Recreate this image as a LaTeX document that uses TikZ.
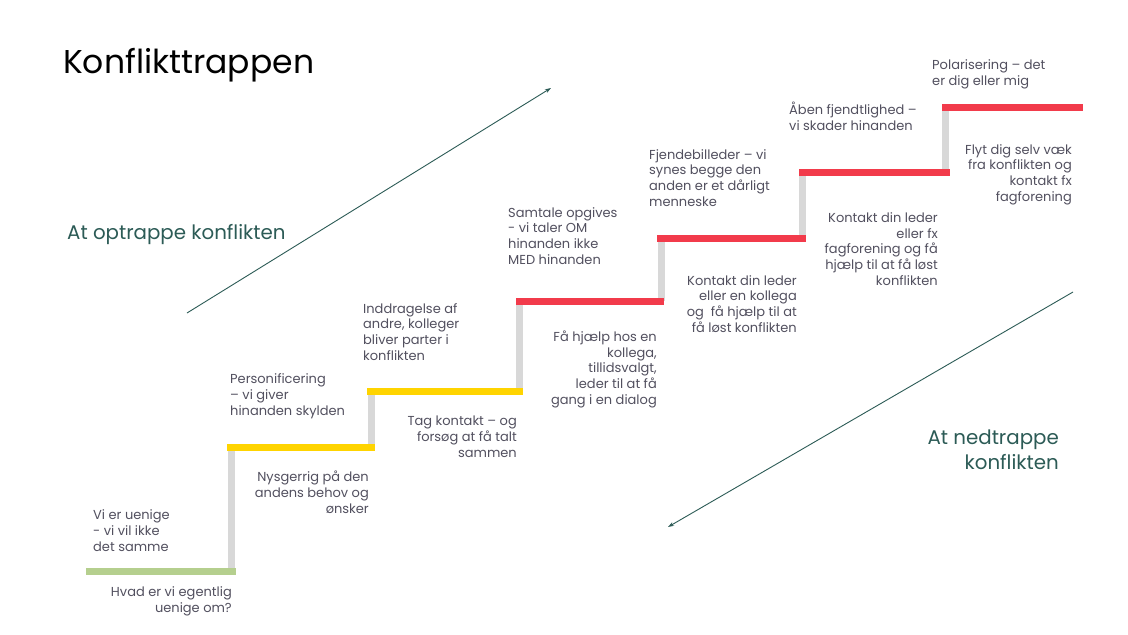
\documentclass[tikz,border=0pt]{standalone}
\usepackage{fontspec}
\setmainfont{Poppins}
\usetikzlibrary{arrows.meta}
\definecolor{stepgreen}{HTML}{B5CF8E}
\definecolor{stepyellow}{HTML}{FFD400}
\definecolor{stepred}{HTML}{F23B4B}
\definecolor{riser}{HTML}{D8D8D8}
\definecolor{bodytext}{HTML}{52505F}
\definecolor{teal}{HTML}{2C5B56}
\tikzset{
  tread/.style={line width=7pt, line cap=butt},
  riserline/.style={riser, line width=7pt, line cap=butt},
  lbl/.style={inner sep=0pt, text=bodytext, font=\fontsize{13}{15.6}\selectfont},
  lblL/.style={lbl, align=left, anchor=base west},
  lblR/.style={lbl, align=right, anchor=base east},
  trend/.style={teal, line width=0.9pt, -{Stealth[length=6pt,width=4pt]}},
  side/.style={inner sep=0pt, text=teal, font=\fontsize{19.8}{24.5}\selectfont},
}
\begin{document}
\begin{tikzpicture}[x=1pt,y=-1pt]
\useasboundingbox (0,0) rectangle (1128,635);
\fill[white] (0,0) rectangle (1128,635);

% risers
\draw[riserline] (231,571) -- (231,447);
\draw[riserline] (371.5,447) -- (371.5,391);
\draw[riserline] (519.5,391) -- (519.5,301);
\draw[riserline] (661,301) -- (661,238);
\draw[riserline] (802.5,238) -- (802.5,172);
\draw[riserline] (945.5,172) -- (945.5,107);

% treads
\draw[tread, stepgreen] (86,571) -- (236,571);
\draw[tread, stepyellow] (227,447) -- (375,447);
\draw[tread, stepyellow] (367,391) -- (523,391);
\draw[tread, stepred] (516,301) -- (664,301);
\draw[tread, stepred] (657,238) -- (806,238);
\draw[tread, stepred] (799,172) -- (950,172);
\draw[tread, stepred] (942,107) -- (1083,107);

% title
\node[inner sep=0pt, anchor=base west, font=\fontsize{33}{36}\selectfont, text=black] (title) at (63,73) {Konflikttrappen};

% trend arrows
\coordinate (upA) at (187,313);
\coordinate (upB) at (551,88);
\coordinate (dnA) at (1073,292);
\coordinate (dnB) at (668,527);
\draw[trend] (upA) -- (upB);
\draw[trend] (dnA) -- (dnB);

\node[side, anchor=base west] (opt) at (67,239) {At optrappe konflikten};
\node[side, align=right, anchor=base east] (ned) at (1059,469) {At nedtrappe\\konflikten};

% step labels (anchor = baseline of the last line)
\node[lblL] (s1) at (93,551) {Vi er uenige\\- vi vil ikke\\det samme};
\node[lblR] (d1) at (232,612) {Hvad er vi egentlig\\uenige om?};
\node[lblL] (s2) at (230,415) {Personificering\\– vi giver\\hinanden skylden};
\node[lblR] (d2) at (369,513) {Nysgerrig på den\\andens behov og\\ønsker};
\node[lblL] (s3) at (363,360) {Inddragelse af\\andre, kolleger\\bliver parter i\\konflikten};
\node[lblR] (d3) at (517,457) {Tag kontakt – og\\forsøg at få talt\\sammen};
\node[lblL] (s4) at (508,264) {Samtale opgives\\- vi taler OM\\hinanden ikke\\MED hinanden};
\node[lblR] (d4) at (657,404) {Få hjælp hos en\\kollega,\\tillidsvalgt,\\leder til at få\\gang i en dialog};
\node[lblL] (s5) at (649,206) {Fjendebilleder – vi\\synes begge den\\anden er et dårligt\\menneske};
\node[lblR] (d5) at (797,332) {Kontakt din leder\\eller en kollega\\og\ \ få hjælp til at\\få løst konflikten};
\node[lblL] (s6) at (789,130) {Åben fjendtlighed –\\vi skader hinanden};
\node[lblR] (d6) at (938,285) {Kontakt din leder\\eller fx\\fagforening og få\\hjælp til at få løst\\konflikten};
\node[lblL] (s7) at (932,85) {Polarisering – det\\er dig eller mig};
\node[lblR] (d7) at (1072,201) {Flyt dig selv væk\\fra konflikten og\\kontakt fx\\fagforening\hspace{4pt}};
\end{tikzpicture}
\end{document}
